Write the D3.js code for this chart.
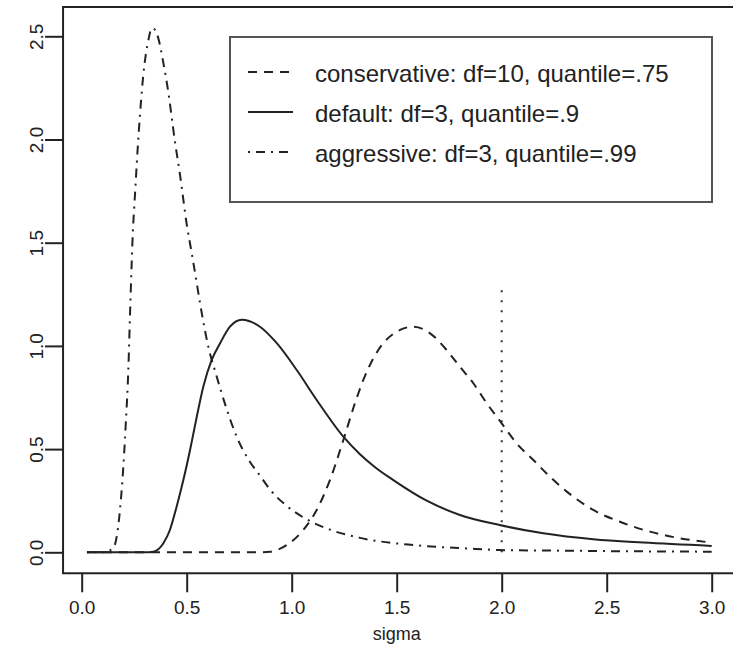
<!DOCTYPE html>
<html>
<head>
<meta charset="utf-8">
<script src="https://cdn.jsdelivr.net/npm/d3@7"></script>
<style>
  body { margin: 0; background: #fff; }
  svg { display: block; font-family: "Liberation Sans", Arial, Helvetica, sans-serif; }
  .curve { fill: none; stroke: #222; stroke-width: 2; }
</style>
</head>
<body>
<svg id="chart" width="733" height="646"></svg>
<script>
// values (sigma, density)
const aggSigma = [0.025, 0.10, 0.150, 0.179, 0.195, 0.210, 0.222, 0.230, 0.238, 0.243, 0.250, 0.257, 0.262, 0.272, 0.282, 0.293, 0.305, 0.317, 0.335, 0.350, 0.365, 0.389, 0.412, 0.444, 0.468, 0.500, 0.524, 0.548, 0.563, 0.603, 0.643, 0.690, 0.738, 0.800, 0.850, 0.900, 0.976, 1.071, 1.182, 1.325, 1.579, 1.833, 1.990, 2.280, 2.600, 3.000];
const aggDens  = [0, 0, 0.020, 0.172, 0.366, 0.625, 0.883, 1.150, 1.400, 1.540, 1.670, 1.790, 1.880, 2.040, 2.180, 2.310, 2.410, 2.480, 2.540, 2.530, 2.490, 2.370, 2.232, 1.990, 1.830, 1.590, 1.449, 1.303, 1.210, 0.996, 0.851, 0.695, 0.560, 0.440, 0.370, 0.300, 0.225, 0.160, 0.110, 0.070, 0.035, 0.019, 0.011, 0.008, 0.005, 0.003];

const defSigma = [0.025, 0.200, 0.300, 0.341, 0.389, 0.420, 0.452, 0.484, 0.516, 0.548, 0.579, 0.619, 0.659, 0.706, 0.762, 0.849, 0.929, 1.024, 1.119, 1.246, 1.325, 1.400, 1.484, 1.643, 1.801, 1.990, 2.198, 2.436, 2.674, 3.000];
const defDens  = [0, 0, 0, 0.003, 0.044, 0.108, 0.221, 0.350, 0.496, 0.657, 0.802, 0.932, 1.013, 1.093, 1.127, 1.093, 1.013, 0.883, 0.738, 0.560, 0.475, 0.410, 0.350, 0.250, 0.181, 0.132, 0.092, 0.063, 0.047, 0.031];

const conSigma = [0.025, 0.500, 0.850, 0.897, 0.976, 1.055, 1.119, 1.182, 1.246, 1.301, 1.341, 1.389, 1.436, 1.500, 1.579, 1.659, 1.738, 1.801, 1.865, 1.929, 2.000, 2.071, 2.151, 2.230, 2.310, 2.436, 2.563, 2.706, 2.849, 3.000];
const conDens  = [0, 0, 0, 0.003, 0.035, 0.108, 0.205, 0.350, 0.544, 0.722, 0.835, 0.940, 1.013, 1.069, 1.093, 1.061, 0.980, 0.899, 0.819, 0.722, 0.625, 0.528, 0.447, 0.366, 0.294, 0.205, 0.148, 0.100, 0.068, 0.047];

const markerSigma = 2.0;
const markerTop = 1.305;

const xTicks = [0, 0.5, 1, 1.5, 2, 2.5, 3];
const yTicks = [0, 0.5, 1, 1.5, 2, 2.5];

const legendLabels = [
  "conservative: df=10, quantile=.75",
  "default: df=3, quantile=.9",
  "aggressive: df=3, quantile=.99"
];
const dashes = ["9,7", null, "2,6,9,6"];

const svg = d3.select("#chart");

const x = d3.scaleLinear().domain([0, 3]).range([81.7, 711.7]);
const y = d3.scaleLinear().domain([0, 2.5]).range([552.3, 36.3]);

// plot frame (R's 4% padding, right side runs off the picture)
const fx0 = x(-0.0888), fx1 = x(3.1188), fy0 = y(-0.1016), fy1 = y(2.642);

const line = d3.line().x(d => x(d[0])).y(d => y(d[1])).curve(d3.curveMonotoneX);

const series = [
  { s: conSigma, d: conDens, dash: dashes[0] },
  { s: defSigma, d: defDens, dash: dashes[1] },
  { s: aggSigma, d: aggDens, dash: dashes[2] }
];

svg.selectAll("path.curve").data(series).join("path")
  .attr("class", "curve")
  .attr("d", c => line(c.s.map((v, i) => [v, c.d[i]])))
  .attr("stroke-dasharray", c => c.dash);

svg.append("line")
  .attr("x1", x(markerSigma)).attr("x2", x(markerSigma))
  .attr("y1", y(0)).attr("y2", y(markerTop))
  .attr("stroke", "#333").attr("stroke-width", 2)
  .attr("stroke-dasharray", "2,8");

// box
svg.append("rect")
  .attr("x", fx0).attr("y", fy1)
  .attr("width", fx1 - fx0).attr("height", fy0 - fy1)
  .attr("fill", "none").attr("stroke", "#222").attr("stroke-width", 2);

// axes
const xAxis = svg.append("g").attr("transform", `translate(0,${fy0})`)
  .call(d3.axisBottom(x).tickValues(xTicks).tickFormat(d3.format(".1f")).tickSize(19).tickPadding(8));
const yAxis = svg.append("g").attr("transform", `translate(${fx0},0)`)
  .call(d3.axisLeft(y).tickValues(yTicks).tickFormat(d3.format(".1f")).tickSize(18));

[xAxis, yAxis].forEach(g => {
  g.select(".domain").remove();
  g.selectAll(".tick line").attr("stroke", "#222").attr("stroke-width", 2);
  g.selectAll("text").attr("fill", "#222").style("font-size", "19px")
    .style("font-family", '"Liberation Sans", Arial, sans-serif');
});

xAxis.selectAll("text").attr("dy", null).attr("y", 41).attr("dominant-baseline", "auto");

yAxis.selectAll(".tick text")
  .attr("x", null).attr("dy", null)
  .attr("text-anchor", "middle")
  .attr("transform", `translate(${43 - fx0},0) rotate(-90)`);

svg.append("text")
  .attr("x", x(1.5)).attr("y", 640)
  .attr("text-anchor", "middle")
  .attr("fill", "#222").style("font-size", "18px")
  .text("sigma");

// legend
const lg = svg.append("g");
lg.append("rect")
  .attr("x", 230).attr("y", 37).attr("width", 482).attr("height", 165)
  .attr("fill", "#fff").attr("stroke", "#555").attr("stroke-width", 2);

const rows = lg.selectAll("g.row").data(legendLabels).join("g")
  .attr("class", "row")
  .attr("transform", (d, i) => `translate(0,${72 + i * 40})`);

rows.append("line")
  .attr("x1", 248).attr("x2", 293)
  .attr("stroke", "#222").attr("stroke-width", 2)
  .attr("stroke-dasharray", (d, i) => dashes[i]);

rows.append("text")
  .attr("x", 315).attr("y", 9.5)
  .attr("fill", "#222").style("font-size", "24px")
  .text(d => d);
</script>
</body>
</html>
